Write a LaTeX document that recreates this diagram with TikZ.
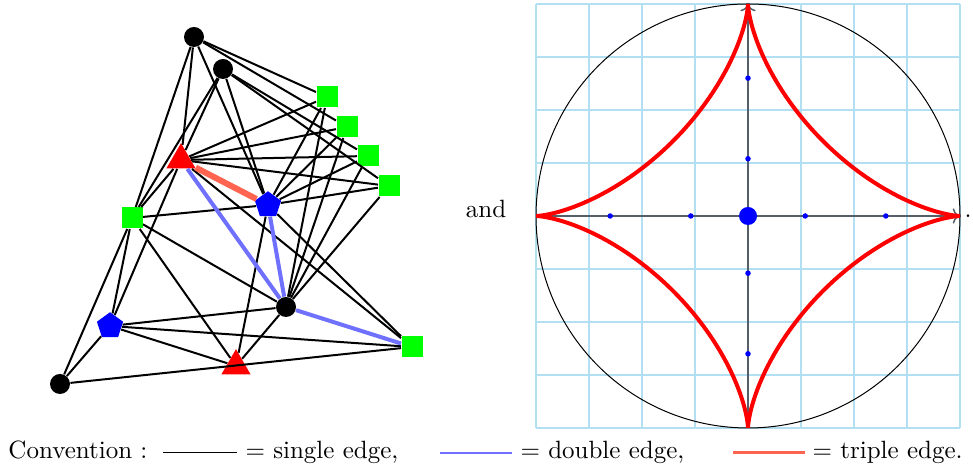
\documentclass[tikz,border=0pt]{standalone}
\usetikzlibrary{shapes.geometric, arrows.meta}
\definecolor{edgeblue}{RGB}{112,112,255}
\definecolor{edgered}{RGB}{255,100,80}
\definecolor{gridblue}{RGB}{178,224,242}
\definecolor{axisgray}{RGB}{85,95,105}

\begin{document}
\begin{tikzpicture}[x=0.4pt, y=0.4pt,
    vblack/.style={circle, fill=black, minimum size=8pt, inner sep=0pt},
    vgreen/.style={rectangle, fill=green, minimum size=8.4pt, inner sep=0pt},
    vred/.style={regular polygon, regular polygon sides=3, fill=red, minimum size=13.5pt, inner sep=0pt},
    vblue/.style={regular polygon, regular polygon sides=5, fill=blue, minimum size=11pt, inner sep=0pt},
    eone/.style={black, line width=0.8pt},
    etwo/.style={edgeblue, line width=1.6pt},
    ethree/.style={edgered, line width=2.4pt}]
    \useasboundingbox (0,0) rectangle (973,470);

    % Left: the graph
    \node[vblack] (b1) at (194,433) {};
    \node[vblack] (b2) at (223,401) {};
    \node[vblack] (b3) at (286,163) {};
    \node[vblack] (b4) at (60,86) {};
    \node[vgreen] (g1) at (327,373) {};
    \node[vgreen] (g2) at (347,343) {};
    \node[vgreen] (g3) at (368,314) {};
    \node[vgreen] (g4) at (389,284) {};
    \node[vgreen] (g5) at (132,252) {};
    \node[vgreen] (g6) at (412,123) {};
    \node[vred] (r1) at (181,310) {};
    \node[vred] (r2) at (236,104) {};
    \node[vblue] (p1) at (268,265) {};
    \node[vblue] (p2) at (110,144) {};

    \foreach \a/\b in {b1/g1, b1/g2, b1/g5, b1/r1, b1/p1,
                       b2/g3, b2/g4, b2/g5, b2/p1, b2/r1,
                       r1/g1, r1/g2, r1/g3, r1/g4, r1/g5, r1/g6, r1/p2,
                       p1/g1, p1/g2, p1/g3, p1/g4, p1/g5, p1/g6, p1/r2,
                       b3/g1, b3/g2, b3/g3, b3/g4, b3/g5, b3/p2, b3/r2,
                       p2/g5, p2/b4, p2/r2, p2/g6,
                       g5/r2, g5/b4, b4/g6}
        \draw[eone] (\a) -- (\b);
    \foreach \a/\b in {r1/b3, p1/b3, b3/g6}
        \draw[etwo] (\a) -- (\b);
    \draw[ethree] (r1) -- (p1);

    \node (and) at (486,252) [anchor=base] {and};
    \node (stop) at (968,252) [anchor=base] {.};

    % Right: the astroid in its circle
    \begin{scope}[shift={(748,254)}, x=21.2pt, y=21.2pt]
        \foreach \k in {-4,...,4} {
            \draw[gridblue, line width=0.6pt] (\k,-4) -- (\k,4);
            \draw[gridblue, line width=0.6pt] (-4,\k) -- (4,\k);
        }
        \draw[black, line width=0.4pt] (0,0) circle (4);
        \draw[axisgray, line width=0.6pt, ->] (-4,0) -- (4,0);
        \draw[axisgray, line width=0.6pt, ->] (0,-4) -- (0,4);
        \draw[red, line width=1.6pt] plot[domain=0:360, samples=240, variable=\t]
            ({4*cos(\t)*cos(\t)*cos(\t)}, {4*sin(\t)*sin(\t)*sin(\t)});
        \foreach \p in {-2.6, -1.08, 1.08, 2.6} {
            \fill[blue] (\p,0) circle (1.1pt);
            \fill[blue] (0,\p) circle (1.1pt);
        }
        \fill[blue] (0,0) circle (3.6pt);
    \end{scope}

    % Convention
    \node[anchor=base west, inner sep=0pt] (conv) at (8,11) {Convention :};
    \coordinate (s1) at (163,17);
    \coordinate (s2) at (237,17);
    \node[anchor=base west, inner sep=0pt] (single) at (245,11) {$=$ single edge,};
    \coordinate (d1) at (440,17);
    \coordinate (d2) at (512,17);
    \node[anchor=base west, inner sep=0pt] (dbl) at (520,11) {$=$ double edge,};
    \coordinate (t1) at (733,17);
    \coordinate (t2) at (805,17);
    \node[anchor=base west, inner sep=0pt] (trpl) at (812,11) {$=$ triple edge.};
    \draw[black, line width=0.4pt] (s1) -- (s2);
    \draw[edgeblue, line width=0.8pt] (d1) -- (d2);
    \draw[edgered, line width=1.2pt] (t1) -- (t2);
\end{tikzpicture}
\end{document}
